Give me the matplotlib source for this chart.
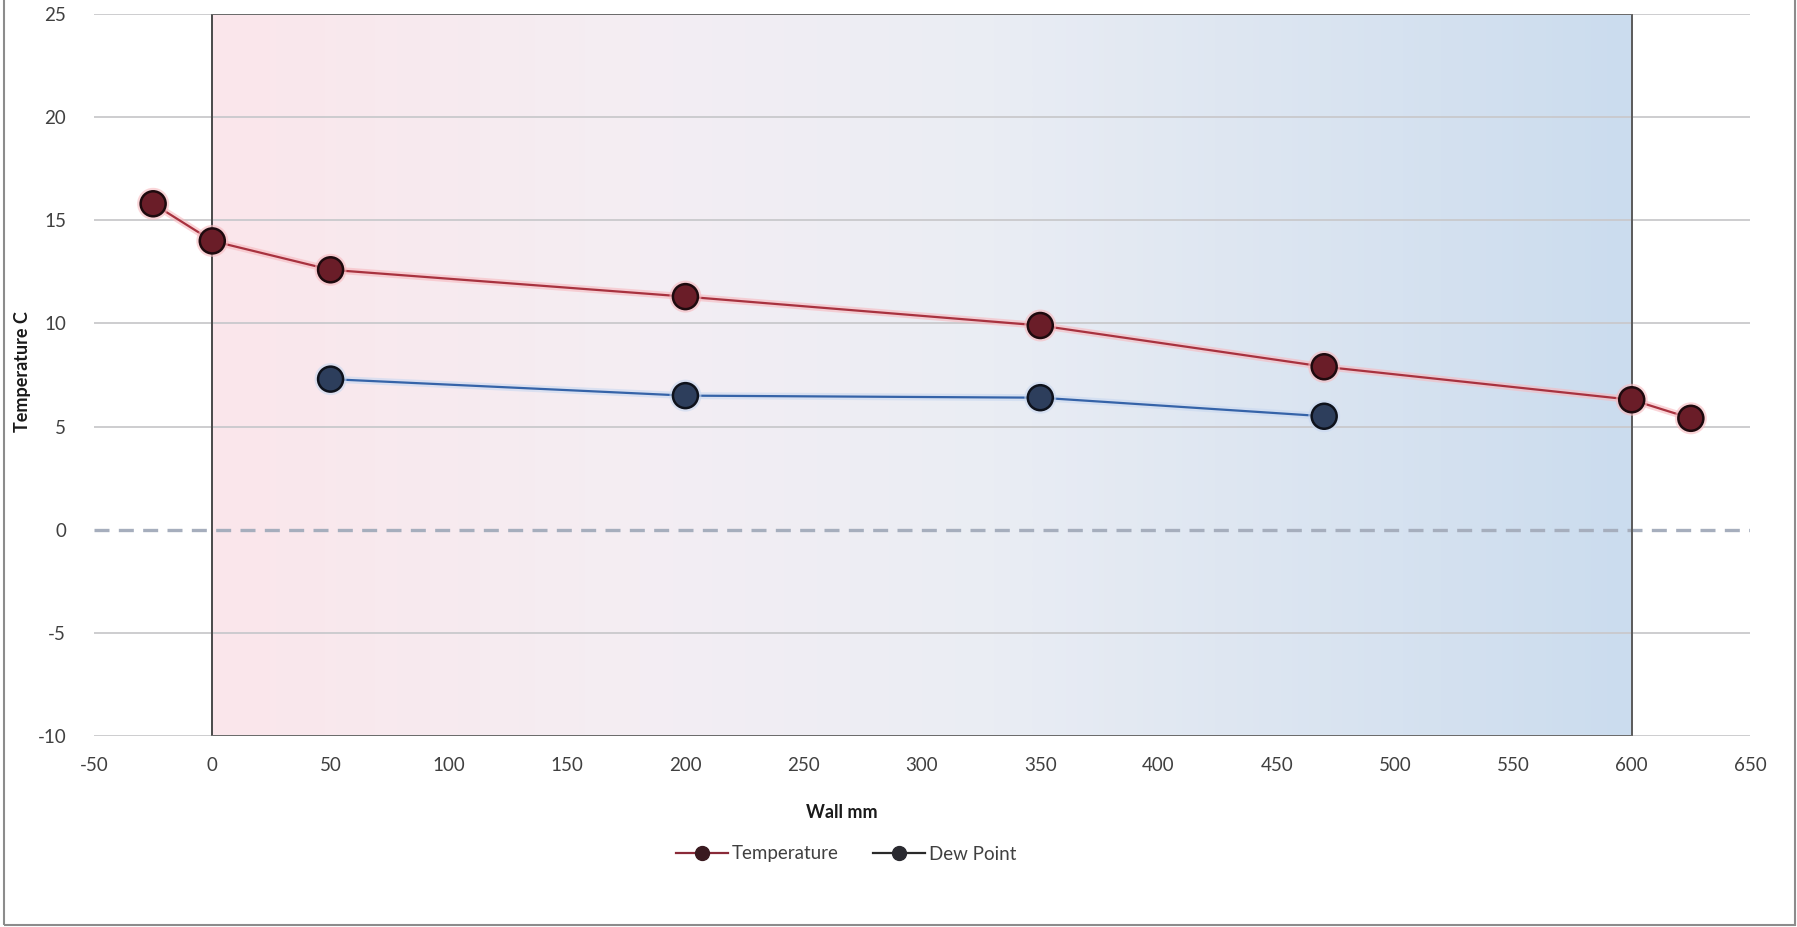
import numpy as np
import matplotlib
matplotlib.use("Agg")
from matplotlib import pyplot as plt
from matplotlib.colors import LinearSegmentedColormap
from matplotlib.patches import Rectangle
from matplotlib.lines import Line2D
import matplotlib.patheffects as pe

plt.rcParams['font.family'] = ['Lato', 'DejaVu Sans']
plt.rcParams['axes.unicode_minus'] = False

# data
wall_mm = [-25, 0, 50, 200, 350, 470, 600, 625]
temperature = [15.8, 14.0, 12.6, 11.3, 9.9, 7.9, 6.3, 5.4]
dew_mm = [50, 200, 350, 470]
dew_point = [7.3, 6.5, 6.4, 5.5]

xticks = list(range(-50, 651, 50))
yticks = list(range(-10, 26, 5))
wall_start, wall_end = 0, 600

fig = plt.figure(figsize=(17.97, 9.27), dpi=100)
ax = fig.add_axes([94 / 1797, 1 - 736 / 927, (1750 - 94) / 1797, (736 - 14) / 927])

# wall band with pink -> blue gradient
cmap = LinearSegmentedColormap.from_list(
    "wall", [(0.0, "#fbe6eb"), (0.3, "#f4eef3"), (0.55, "#eaedf4"), (1.0, "#cbdcee")])
grad = np.linspace(0, 1, 256).reshape(1, -1)
ax.imshow(grad, cmap=cmap, aspect="auto", extent=[wall_start, wall_end, -10, 25],
          zorder=0, interpolation="bilinear")

# grid
for y in yticks:
    if y == 0:
        continue
    ax.plot([-50, 650], [y, y], color="#c9c9cc", lw=1.3, zorder=1)
ax.plot([-50, 650], [0, 0], color="#a6aebd", lw=2.4, dashes=(4.5, 2.8), zorder=1)

# wall border
ax.plot([wall_start, wall_start], [-10, 25], color="#4a4a4a", lw=1.4, zorder=2)
ax.plot([wall_end, wall_end], [-10, 25], color="#5a5a5a", lw=1.4, zorder=2)
ax.plot([wall_start, wall_end], [25, 25], color="#6a6a6a", lw=1.4, zorder=2)
ax.plot([wall_start, wall_end], [-10, -10], color="#6a6a6a", lw=1.4, zorder=2)

glow_r = [pe.Stroke(linewidth=5, foreground="#f7b9bf", alpha=0.6), pe.Normal()]
glow_b = [pe.Stroke(linewidth=5, foreground="#c9d8f0", alpha=0.6), pe.Normal()]

ax.plot(wall_mm, temperature, color="#a8323f", lw=1.6, marker="o", ms=18,
        mfc="#6a1d28", mec="#1e0a0e", mew=1.8, zorder=4, path_effects=glow_r,
        label="Temperature")
ax.plot(dew_mm, dew_point, color="#3563a8", lw=1.6, marker="o", ms=18,
        mfc="#2d3e5c", mec="#0e121c", mew=1.8, zorder=4, path_effects=glow_b,
        label="Dew Point")

ax.set_xlim(-50, 650)
ax.set_ylim(-10, 25)
ax.set_xticks(xticks)
ax.set_yticks(yticks)
ax.tick_params(length=0, labelsize=13.5, labelcolor="#404040")
ax.tick_params(axis="y", pad=20)
ax.tick_params(axis="x", pad=15)
for s in ax.spines.values():
    s.set_visible(False)
ax.patch.set_alpha(0)

fig.text(842 / 1797, 1 - 812 / 927, "Wall mm", ha="center", va="center",
         fontsize=13, fontweight="bold", color="#1a1a1a")
fig.text(23 / 1797, 1 - 372 / 927, "Temperature C", ha="center", va="center",
         rotation=90, fontsize=13, fontweight="bold", color="#1a1a1a")

# legend
handles = [
    Line2D([], [], color="#8a2a38", lw=1.6, marker="o", ms=10, mfc="#3a1a20", mec="#3a1a20"),
    Line2D([], [], color="#2a2a2a", lw=1.6, marker="o", ms=10, mfc="#2a2a30", mec="#2a2a30"),
]
fig.legend(handles, ["Temperature", "Dew Point"], loc="center",
           bbox_to_anchor=(846 / 1797, 1 - 854 / 927), ncol=2, frameon=False,
           fontsize=13.5, handlelength=2.8, handletextpad=0.2, columnspacing=1.8,
           labelcolor="#404040")

# outer chart border
fig.patches.append(Rectangle((4 / 1797, 2 / 927), 1791 / 1797, 1.05,
                             transform=fig.transFigure, fill=False,
                             edgecolor="#8c8c8c", lw=1.5))

fig.savefig("out.png", dpi=100, facecolor="white")
